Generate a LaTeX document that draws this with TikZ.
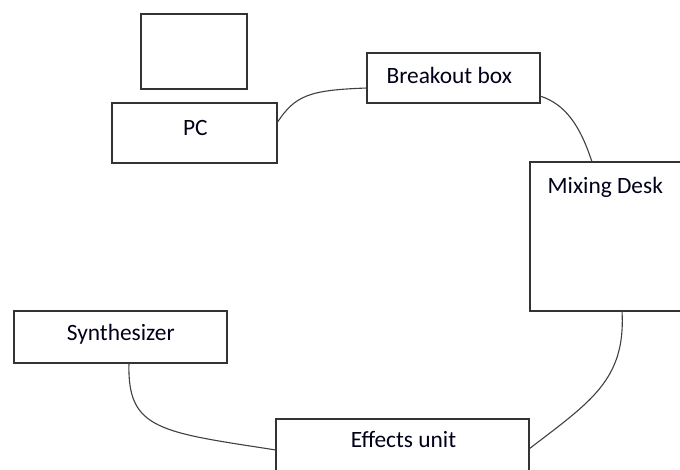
\documentclass[tikz,border=0pt]{standalone}
\usepackage{fontspec}
\setmainfont{Carlito}
\usetikzlibrary{calc}
\begin{document}
\begin{tikzpicture}[x=1pt,y=-1pt,
  unitbox/.style={draw=black!80, line width=1.3pt, fill=none, inner sep=0pt, outer sep=0pt},
  lbl/.style={anchor=base, inner sep=0pt, font=\fontsize{23.4}{28}\selectfont, text=black!90!blue},
  cable/.style={draw=black!75, line width=1.1pt}]
  \useasboundingbox (0,0) rectangle (680,469);
  \fill[white] (0,0) rectangle (680,469);

  % equipment boxes
  \node[unitbox, minimum width=106pt, minimum height=75pt]  (mon) at (194,51.5) {};
  \node[unitbox, minimum width=165pt, minimum height=60pt]  (pc)  at (194.5,133) {};
  \node[unitbox, minimum width=173pt, minimum height=50pt]  (bo)  at (453.5,78) {};
  \node[unitbox, minimum width=155pt, minimum height=149pt] (mix) at (607.5,236.5) {};
  \node[unitbox, minimum width=213pt, minimum height=52pt]  (syn) at (120.5,337) {};
  \node[unitbox, minimum width=253pt, minimum height=56pt]  (fx)  at (402.5,447) {};

  % labels
  \node[lbl] (pct)  at (195.3,135)   {PC};
  \node[lbl] (bot)  at (449.2,83.3)  {Breakout box};
  \node[lbl] (mixt) at (605.3,193.3) {Mixing Desk};
  \node[lbl] (synt) at (120.8,340)   {Synthesizer};
  \node[lbl] (fxt)  at (403.5,447.7) {Effects unit};

  % cables
  \draw[cable] ($(pc.north east)+(0,20)$) .. controls (295,95) and (310,90) .. ($(bo.north west)+(0,35)$);
  \draw[cable] ($(bo.north east)+(0,43)$) .. controls (565,104) and (580,125) .. ($(mix.north west)+(62,0)$);
  \draw[cable] ($(mix.south west)+(92,0)$) .. controls (626,380) and (590,402) .. ($(fx.north east)+(0,30)$);
  \draw[cable] ($(syn.south west)+(115,0)$) .. controls (127,430) and (160,432) .. ($(fx.north west)+(0,31)$);
\end{tikzpicture}
\end{document}
